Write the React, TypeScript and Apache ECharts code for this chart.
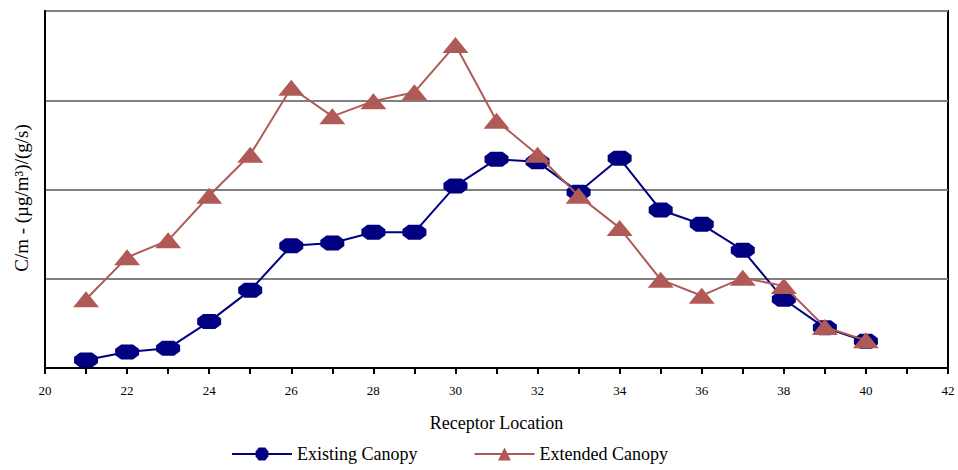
import React, { useEffect, useRef } from "react";
import * as echarts from "echarts";

const locations = [21, 22, 23, 24, 25, 26, 27, 28, 29, 30, 31, 32, 33, 34, 35, 36, 37, 38, 39, 40];
const existingCanopy = [0.09, 0.18, 0.22, 0.52, 0.87, 1.37, 1.4, 1.52, 1.52, 2.04, 2.34, 2.31, 1.97, 2.35, 1.77, 1.61, 1.32, 0.77, 0.45, 0.3];
const extendedCanopy = [0.77, 1.24, 1.43, 1.93, 2.39, 3.14, 2.82, 2.99, 3.09, 3.62, 2.77, 2.39, 1.93, 1.57, 0.99, 0.81, 1.01, 0.92, 0.46, 0.31];
const yTitle = "C/m - (µg/m³)/(g/s)";
const xTitle = "Receptor Location";

const FONT = "'Liberation Serif', 'DejaVu Serif', serif";
const OCTAGON = "path://M3,0 L9,0 L12,3 L12,7 L9,10 L3,10 L0,7 L0,3 Z";

export default function App() {
  const ref = useRef<HTMLDivElement>(null);
  useEffect(() => {
    if (!ref.current) return;
    const chart = echarts.init(ref.current, null, { renderer: "svg" });
    chart.setOption({
      animation: false,
      backgroundColor: "#ffffff",
      grid: { left: 45, right: 10, top: 11, bottom: 102, show: true, borderColor: "#000", borderWidth: 2, backgroundColor: "transparent" },
      graphic: [
        {
          type: "text",
          x: 21,
          y: 198,
          rotation: Math.PI / 2,
          style: { text: yTitle, fontFamily: FONT, fontSize: 19, fill: "#000", align: "center", verticalAlign: "middle" },
        },
      ],
      legend: {
        left: 226,
        top: 440,
        itemWidth: 60,
        itemHeight: 16,
        itemGap: 56,
        textStyle: { fontFamily: FONT, fontSize: 18, color: "#000", padding: [0, 0, 0, 0] },
        data: ["Existing Canopy", "Extended Canopy"],
      },
      xAxis: {
        type: "value",
        min: 20,
        max: 42,
        interval: 1,
        name: xTitle,
        nameLocation: "middle",
        nameGap: 46,
        nameTextStyle: { fontFamily: FONT, fontSize: 18, color: "#000" },
        axisLine: { show: true, lineStyle: { color: "#000", width: 2 } },
        axisTick: { show: true, length: 6, lineStyle: { color: "#000", width: 2 } },
        axisLabel: {
          fontFamily: FONT,
          fontSize: 13,
          color: "#000",
          margin: 16,
          formatter: (v: number) => (v % 2 === 0 ? String(v) : ""),
        },
        splitLine: { show: false },
      },
      yAxis: {
        type: "value",
        min: 0,
        max: 4,
        interval: 1,
        axisLine: { show: true, lineStyle: { color: "#000", width: 2 } },
        axisTick: { show: false },
        axisLabel: { show: false },
        splitLine: { show: true, lineStyle: { color: "#808080", width: 2 } },
      },
      series: [
        {
          name: "Existing Canopy",
          type: "line",
          data: locations.map((x, i) => [x, existingCanopy[i]]),
          symbol: OCTAGON,
          symbolSize: [24, 15],
          lineStyle: { color: "#000080", width: 2 },
          itemStyle: { color: "#000080" },
          z: 3,
        },
        {
          name: "Extended Canopy",
          type: "line",
          data: locations.map((x, i) => [x, extendedCanopy[i]]),
          symbol: "triangle",
          symbolSize: [26, 16],
          lineStyle: { color: "#B05A58", width: 2 },
          itemStyle: { color: "#B05A58" },
          z: 4,
        },
      ],
    });
    return () => chart.dispose();
  }, []);
  return <div ref={ref} style={{ position: "absolute", left: 0, top: 0, width: 958, height: 470 }} />;
}
